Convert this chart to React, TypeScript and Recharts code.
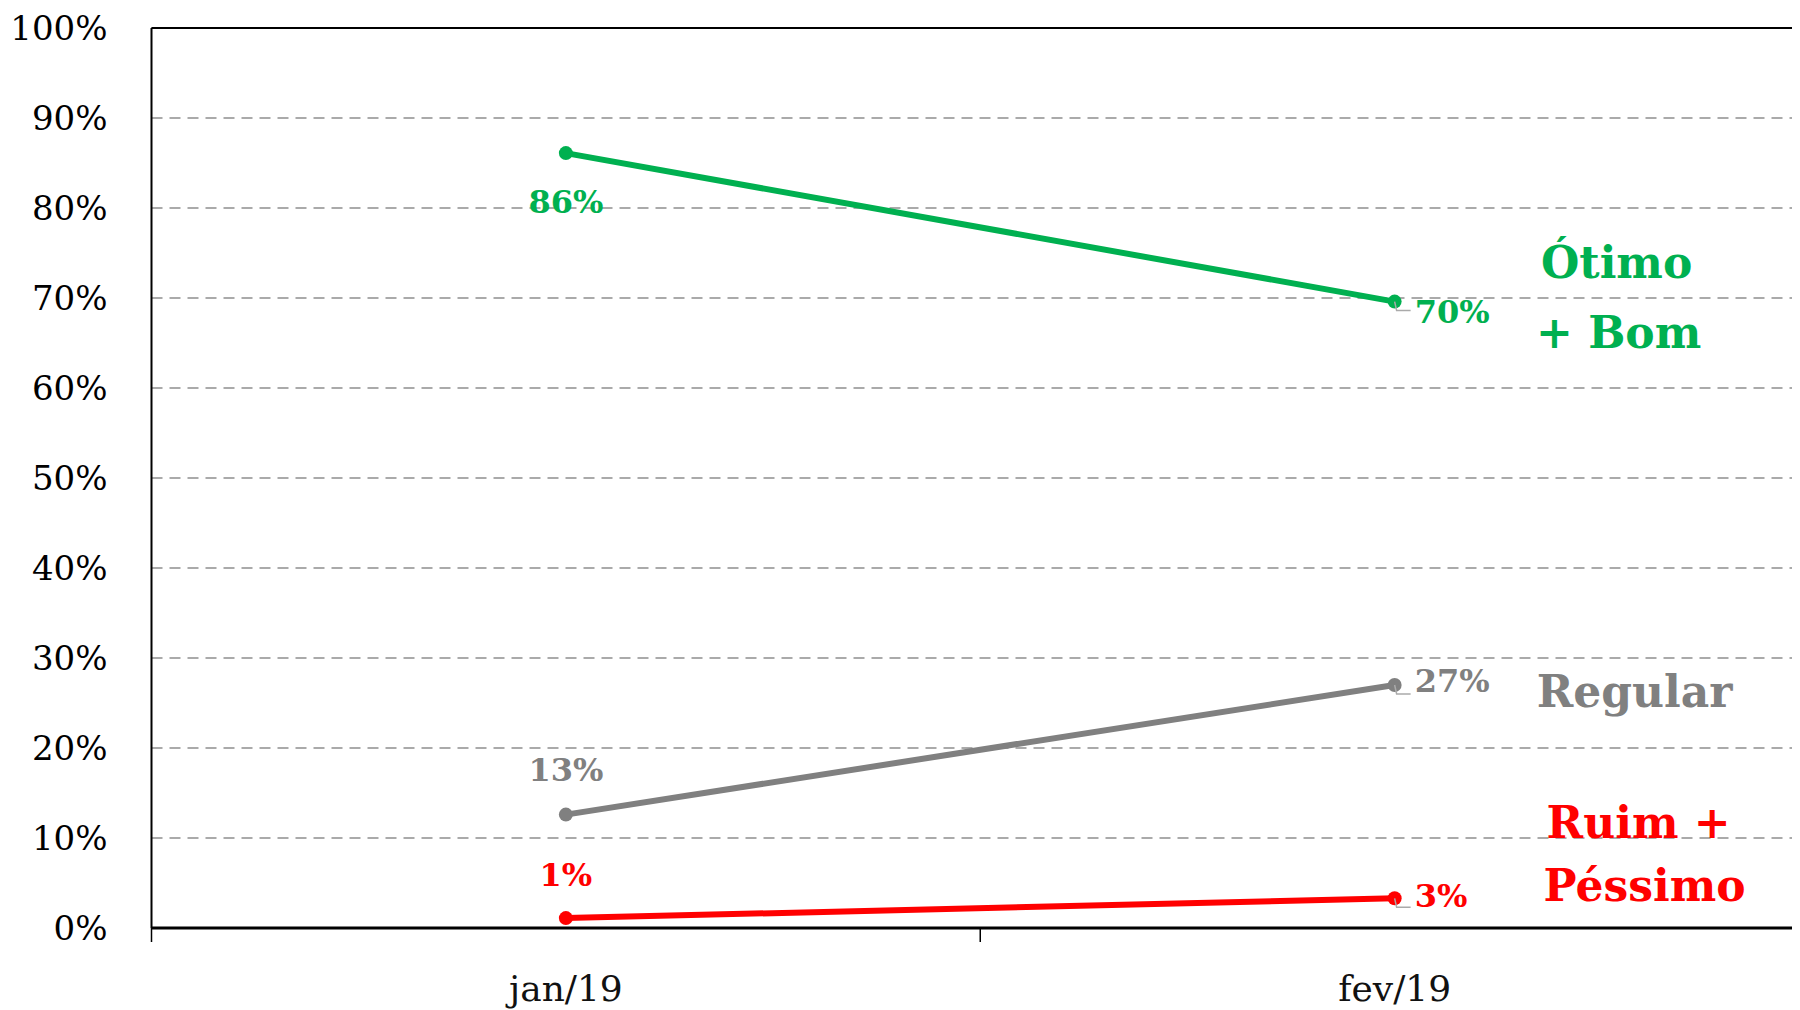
import React from "react";
import {
  LineChart,
  Line,
  XAxis,
  YAxis,
  CartesianGrid,
  ReferenceLine,
  LabelList,
} from "recharts";

// categorias e séries (percentuais)
const categories = ["jan/19", "fev/19"];
const otimoBom = [86.1, 69.6];
const regular = [12.6, 27.0];
const ruimPessimo = [1.1, 3.3];
const yTicks = [0, 10, 20, 30, 40, 50, 60, 70, 80, 90, 100];

const GREEN = "#00b050";
const GRAY = "#808080";
const RED = "#ff0000";
const FONT = "'Roboto Slab', 'DejaVu Serif', serif";

// the plot runs past the right edge of the picture, so no scrollbars
if (typeof document !== "undefined") {
  document.documentElement.style.overflow = "hidden";
  document.body.style.overflow = "hidden";
}

const data = categories.map((cat, i) => ({
  x: i + 0.5,
  cat,
  otimo: otimoBom[i],
  regular: regular[i],
  ruim: ruimPessimo[i],
}));

const XTick = (props: any) => {
  const { x, y, payload } = props;
  const v = payload.value;
  if (Number.isInteger(v)) {
    return <line x1={x} y1={y} x2={x} y2={y + 14} stroke="#000" strokeWidth={1.5} />;
  }
  const cat = categories[Math.floor(v)];
  return (
    <text x={x} y={y + 60} textAnchor="middle" dy="0.35em" fontFamily={FONT} fontSize={36} fill="#111">
      {cat}
    </text>
  );
};

type Cfg = {
  color: string;
  firstDy: number; // offset of jan label
  lastDy: number;  // offset of fev label
  names: { text: string; dx: number; dy: number }[];
};

const makeLabel = (cfg: Cfg) => (props: any) => {
  const { x, y, index, value } = props;
  const txt = `${Math.round(value)}%`;
  const style = { fontFamily: FONT, fontWeight: 700, fontSize: 32, fill: cfg.color };
  if (index === 0) {
    return (
      <text x={x} y={y + cfg.firstDy} textAnchor="middle" dy="0.35em" {...style}>
        {txt}
      </text>
    );
  }
  return (
    <g>
      <polyline
        points={`${x},${y} ${x + 2},${y + 9} ${x + 16},${y + 9}`}
        fill="none"
        stroke="#aaa"
        strokeWidth={1.5}
      />
      <text x={x + 20} y={y + cfg.lastDy} textAnchor="start" dy="0.35em" {...style}>
        {txt}
      </text>
      {cfg.names.map((n) => (
        <text
          key={n.text}
          x={x + n.dx}
          y={y + n.dy}
          textAnchor="middle"
          dy="0.35em"
          fontFamily={FONT}
          fontWeight={700}
          fontSize={44}
          fill={cfg.color}
        >
          {n.text}
        </text>
      ))}
    </g>
  );
};

const greenLabel = makeLabel({
  color: GREEN,
  firstDy: 49,
  lastDy: 10,
  names: [
    { text: "Ótimo", dx: 222, dy: -39 },
    { text: "+ Bom", dx: 224, dy: 31 },
  ],
});
const grayLabel = makeLabel({
  color: GRAY,
  firstDy: -45,
  lastDy: -4,
  names: [{ text: "Regular", dx: 240, dy: 7 }],
});
const redLabel = makeLabel({
  color: RED,
  firstDy: -43,
  lastDy: -3,
  names: [
    { text: "Ruim +", dx: 244, dy: -76 },
    { text: "Péssimo", dx: 250, dy: -13 },
  ],
});

export default function App() {
  return (
    <div style={{ width: 1792, height: 1002, overflow: "hidden", background: "#fff" }}>
      <LineChart
        width={1900}
        height={1002}
        data={data}
        margin={{ top: 20, right: 99, bottom: 22, left: 0 }}
      >
        <CartesianGrid vertical={false} stroke="#aaa" strokeWidth={2} strokeDasharray="11 7" />
        <XAxis
          type="number"
          dataKey="x"
          domain={[0, 2]}
          ticks={[0, 0.5, 1, 1.5, 2]}
          interval={0}
          height={60}
          tickLine={false}
          tickSize={0}
          tickMargin={0}
          axisLine={{ stroke: "#000", strokeWidth: 3 }}
          tick={<XTick />}
        />
        <YAxis
          type="number"
          domain={[0, 100]}
          ticks={yTicks}
          interval={0}
          width={143.5}
          tickLine={false}
          tickSize={0}
          tickMargin={44}
          axisLine={{ stroke: "#000", strokeWidth: 2 }}
          tickFormatter={(v) => `${v}%`}
          tick={{ fontFamily: FONT, fontSize: 34, fill: "#000" }}
        />
        <ReferenceLine y={100} stroke="#000" strokeWidth={2} />
        <Line
          dataKey="otimo"
          stroke={GREEN}
          strokeWidth={6}
          dot={{ r: 7, fill: GREEN, stroke: "none" }}
          isAnimationActive={false}
        >
          <LabelList dataKey="otimo" content={greenLabel} />
        </Line>
        <Line
          dataKey="regular"
          stroke={GRAY}
          strokeWidth={6}
          dot={{ r: 7, fill: GRAY, stroke: "none" }}
          isAnimationActive={false}
        >
          <LabelList dataKey="regular" content={grayLabel} />
        </Line>
        <Line
          dataKey="ruim"
          stroke={RED}
          strokeWidth={6}
          dot={{ r: 7, fill: RED, stroke: "none" }}
          isAnimationActive={false}
        >
          <LabelList dataKey="ruim" content={redLabel} />
        </Line>
      </LineChart>
    </div>
  );
}
